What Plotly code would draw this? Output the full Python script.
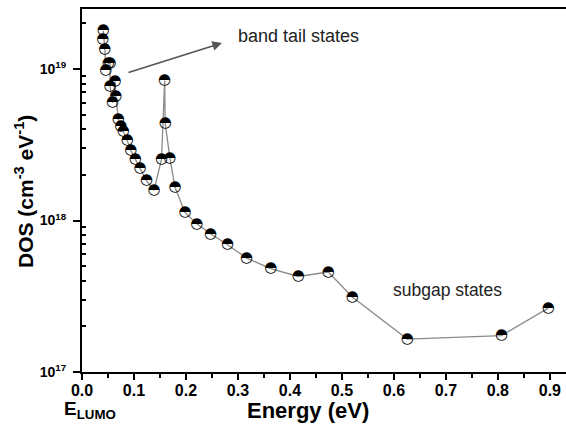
import numpy as np
import plotly.graph_objects as go

# Data
energy = [0.040, 0.041, 0.044, 0.0456, 0.0506, 0.054, 0.054, 0.059, 0.0635, 0.065,
          0.070, 0.0744, 0.0794, 0.087, 0.094, 0.1025, 0.1115, 0.124, 0.1385,
          0.153, 0.159, 0.160, 0.169, 0.179, 0.198, 0.2206, 0.2475, 0.280, 0.3167,
          0.363, 0.416, 0.4737, 0.520, 0.6256, 0.807, 0.897]
dos = [1.58e19, 1.79e19, 1.35e19, 9.87e18, 1.09e19, 1.09e19, 7.65e18, 6.0e18, 8.26e18, 6.58e18,
       4.66e18, 4.22e18, 3.87e18, 3.37e18, 2.90e18, 2.54e18, 2.22e18, 1.83e18, 1.58e18,
       2.54e18, 8.38e18, 4.39e18, 2.58e18, 1.65e18, 1.13e18, 9.51e17, 8.17e17, 6.92e17, 5.65e17,
       4.82e17, 4.27e17, 4.57e17, 3.13e17, 1.65e17, 1.74e17, 2.64e17]

x_ticks = [0.0, 0.1, 0.2, 0.3, 0.4, 0.5, 0.6, 0.7, 0.8, 0.9]
x_tick_labels = ["0.0", "0.1", "0.2", "0.3", "0.4", "0.5", "0.6", "0.7", "0.8", "0.9"]
y_ticks = [1e17, 1e18, 1e19]
y_tick_labels = ["10<sup>17</sup>", "10<sup>18</sup>", "10<sup>19</sup>"]

FONT = "Liberation Sans, Arial, sans-serif"

fig = go.Figure()
fig.add_trace(go.Scatter(
    x=energy, y=dos, mode="lines",
    line=dict(color="#8a8a8a", width=1.3),
    showlegend=False, hoverinfo="skip",
))
# half-filled circle markers (upper half black)
fig.add_trace(go.Scatter(
    x=energy, y=dos, mode="text", text=["\u25D3"] * len(energy),
    textposition="middle center",
    textfont=dict(family="DejaVu Sans", size=15, color="black"),
    showlegend=False,
))

y_minor = [m * 10.0 ** e for e in range(17, 20) for m in range(2, 10)]
x_minor = [v + 0.05 for v in x_ticks]

fig.update_xaxes(
    range=[0, 0.931], tickvals=x_ticks, ticktext=x_tick_labels,
    showline=True, linecolor="black", linewidth=2, mirror=True,
    ticks="outside", ticklen=6, tickwidth=2, tickcolor="black",
    minor=dict(tickvals=x_minor, ticks="outside", ticklen=4, tickwidth=1.5, tickcolor="black"),
    showgrid=False, zeroline=False, ticklabelstandoff=-3,
    tickfont=dict(family=FONT, size=16, color="black", weight="bold"),
)
fig.update_yaxes(
    type="log", range=[17, 19.396], tickvals=y_ticks, ticktext=y_tick_labels,
    showline=True, linecolor="black", linewidth=2, mirror=False,
    ticks="outside", ticklen=7, tickwidth=2, tickcolor="black",
    minor=dict(tickvals=y_minor, ticks="inside", ticklen=4, tickwidth=1.5, tickcolor="black"),
    showgrid=False, zeroline=False, ticklabelstandoff=4,
    tickfont=dict(family=FONT, size=14, color="black", weight="bold"),
)

L, T, B, R = 82, 9, 60, 0
W, H = 566, 432
pw, ph = W - L - R, H - T - B

def px(xp):
    return (xp - L) / pw

def py(yp):
    return (H - B - yp) / ph

def note(text, xp, yp, size, bold=False, color="black", angle=0, xanchor="center"):
    f = dict(family=FONT, size=size, color=color)
    if bold:
        f["weight"] = "bold"
    return dict(text=text, x=px(xp), y=py(yp), xref="paper", yref="paper",
                xanchor=xanchor, yanchor="middle", textangle=angle,
                showarrow=False, font=f)

annotations = [
    note("Energy (eV)", 308, 410, 22, bold=True),
    note("E<sub>LUMO</sub>", 62, 410, 19, bold=True, xanchor="left"),
    note("DOS (cm<sup>-3</sup> eV<sup>-1</sup>)", 24, 192, 21, bold=True, angle=-90),
    note("band tail states", 298, 36, 18, color="#222222"),
    note("subgap states", 447, 290, 17.5, color="#222222"),
    dict(text="", x=px(222), y=py(43), xref="paper", yref="paper",
         showarrow=True, ax=-95, ay=30, axref="pixel", ayref="pixel",
         arrowhead=2, arrowsize=1.2, arrowwidth=1.6, arrowcolor="#555555"),
]

fig.update_layout(
    width=W, height=H,
    margin=dict(l=L, r=R, t=T, b=B),
    paper_bgcolor="white", plot_bgcolor="white",
    annotations=annotations,
)

fig.write_html("out.html")
